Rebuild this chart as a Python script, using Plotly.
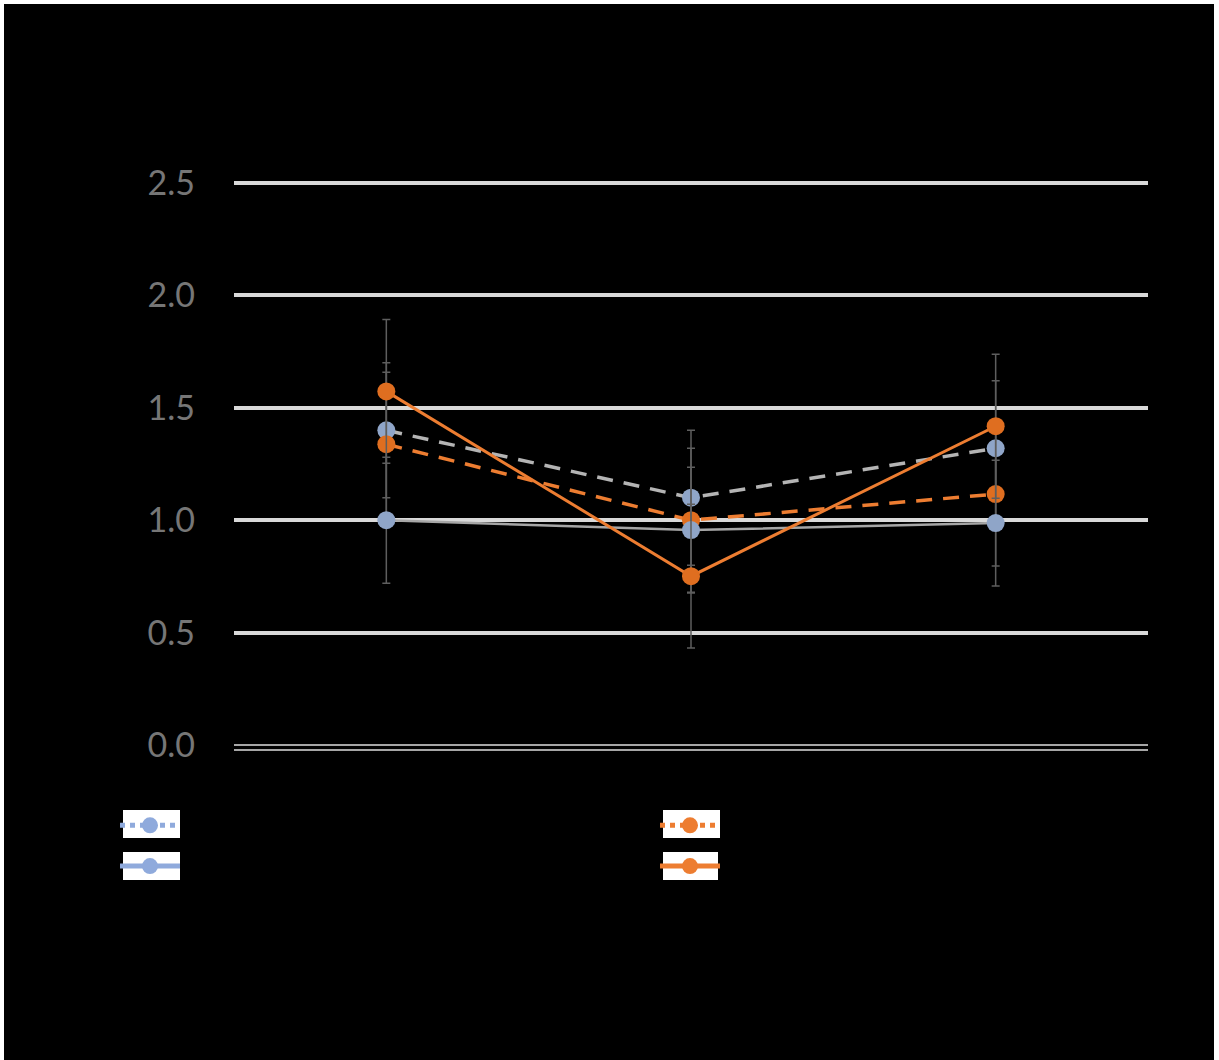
import plotly.graph_objects as go

# ---------------- data ----------------
categories = ["Cat 1", "Cat 2", "Cat 3"]
series_names = ["Series 1", "Series 2", "Series 3", "Series 4"]

s1_dashed_blue = [1.40, 1.10, 1.32]
s2_solid_blue = [1.00, 0.956, 0.987]
s3_dashed_orange = [1.338, 1.00, 1.116]
s4_solid_orange = [1.573, 0.751, 1.418]

err_s1 = [0.30, 0.30, 0.30]
err_s2 = [0.28, 0.28, 0.28]
err_s3 = [0.32, 0.32, 0.32]
err_s4 = [0.32, 0.32, 0.32]

y_ticks = [0.0, 0.5, 1.0, 1.5, 2.0, 2.5]

# ---------------- layout geometry ----------------
W, H = 1219, 1060
L, R, T, B = 234, 71, 181, 311
PW, PH = W - L - R, H - T - B

def px(x):
    return (x - L) / PW

def py(y):
    return (H - B - y) / PH

BLUE_M = "#8FA5C8"
ORANGE_M = "#DF6E20"
ORANGE_L = "#ED7D31"
GRAY_D = "#B4B4B4"
GRAY_S = "#A6A6A6"
ERR = "#5E5E5E"
FONT = "Lato"

def err(vals):
    return dict(type="data", array=vals, visible=True, color=ERR, thickness=1.5, width=4)

fig = go.Figure()

# plotted traces (order: s1, s3, s2, s4 for stacking)
fig.add_trace(go.Scatter(x=categories, y=s1_dashed_blue, mode="lines+markers", name=series_names[0],
                         line=dict(color=GRAY_D, width=3.5, dash="16px,11px"),
                         marker=dict(color=BLUE_M, size=18), error_y=err(err_s1), showlegend=False))
fig.add_trace(go.Scatter(x=categories, y=s3_dashed_orange, mode="lines+markers", name=series_names[2],
                         line=dict(color=ORANGE_L, width=3.5, dash="16px,11px"),
                         marker=dict(color=ORANGE_M, size=18), error_y=err(err_s3), showlegend=False))
fig.add_trace(go.Scatter(x=categories, y=s2_solid_blue, mode="lines+markers", name=series_names[1],
                         line=dict(color=GRAY_S, width=2.5),
                         marker=dict(color=BLUE_M, size=18), error_y=err(err_s2), showlegend=False))
fig.add_trace(go.Scatter(x=categories, y=s4_solid_orange, mode="lines+markers", name=series_names[3],
                         line=dict(color=ORANGE_L, width=3),
                         marker=dict(color=ORANGE_M, size=18), error_y=err(err_s4), showlegend=False))

# legend entries
leg_specs = [
    (series_names[0], "#8FAADC", "dot", "legend"),
    (series_names[1], "#8FAADC", "solid", "legend"),
    (series_names[2], "#ED7D31", "dot", "legend2"),
    (series_names[3], "#ED7D31", "solid", "legend2"),
]
for name, col, dash, lg in leg_specs:
    fig.add_trace(go.Scatter(x=[None], y=[None], mode="lines+markers", name=name,
                             line=dict(color=col, width=5, dash=dash),
                             marker=dict(color=col, size=18), legend=lg, showlegend=True))

shapes = []
# white legend key boxes
for (x0, y0, x1, y1) in [(123, 810, 180, 838), (123, 852, 180, 880),
                         (663, 810, 720, 838), (663, 852, 718, 880)]:
    shapes.append(dict(type="rect", xref="paper", yref="paper", x0=px(x0), x1=px(x1),
                       y0=py(y1), y1=py(y0), fillcolor="white", line=dict(width=0), layer="below"))
# white frame strips
for (x0, y0, x1, y1) in [(0, 0, 4, H), (0, 0, W, 4), (1214, 0, W, H)]:
    shapes.append(dict(type="rect", xref="paper", yref="paper", x0=px(x0), x1=px(x1),
                       y0=py(y1), y1=py(y0), fillcolor="white", line=dict(width=0), layer="above"))

ymin = -(749 - 745) / 225
ymax = 2.5 + (183 - T) / 225

leg_common = dict(orientation="v", bgcolor="rgba(0,0,0,0)", borderwidth=0,
                  font=dict(family=FONT, size=29, color="#000000"),
                  xanchor="left", yanchor="top", tracegroupgap=0, itemwidth=60)

fig.update_layout(
    width=W, height=H,
    margin=dict(l=L, r=R, t=T, b=B, pad=0),
    paper_bgcolor="#000000", plot_bgcolor="#000000",
    font=dict(family=FONT, color="#767676"),
    xaxis=dict(type="category", range=[-0.5, 2.5], showgrid=False, zeroline=False,
               showline=True, linecolor=GRAY_S, linewidth=1.5, ticks="",
               tickfont=dict(family=FONT, size=26, color="#000000")),
    yaxis=dict(range=[ymin, ymax], tickvals=y_ticks, ticktext=[f"{v:.1f}" for v in y_ticks],
               showgrid=True, gridcolor="#D9D9D9", gridwidth=4,
               zeroline=True, zerolinecolor=GRAY_S, zerolinewidth=1.5,
               showline=False, ticks="", ticklabelstandoff=38,
               tickfont=dict(family=FONT, size=34, color="#767676")),
    legend=dict(x=px(115), y=py(800), **leg_common),
    legend2=dict(x=px(655), y=py(800), **leg_common),
    shapes=shapes,
    showlegend=True,
)

fig.write_html("out.html", config={"displayModeBar": False},
               post_script="document.body.style.margin='0px';document.body.style.overflow='hidden';")
